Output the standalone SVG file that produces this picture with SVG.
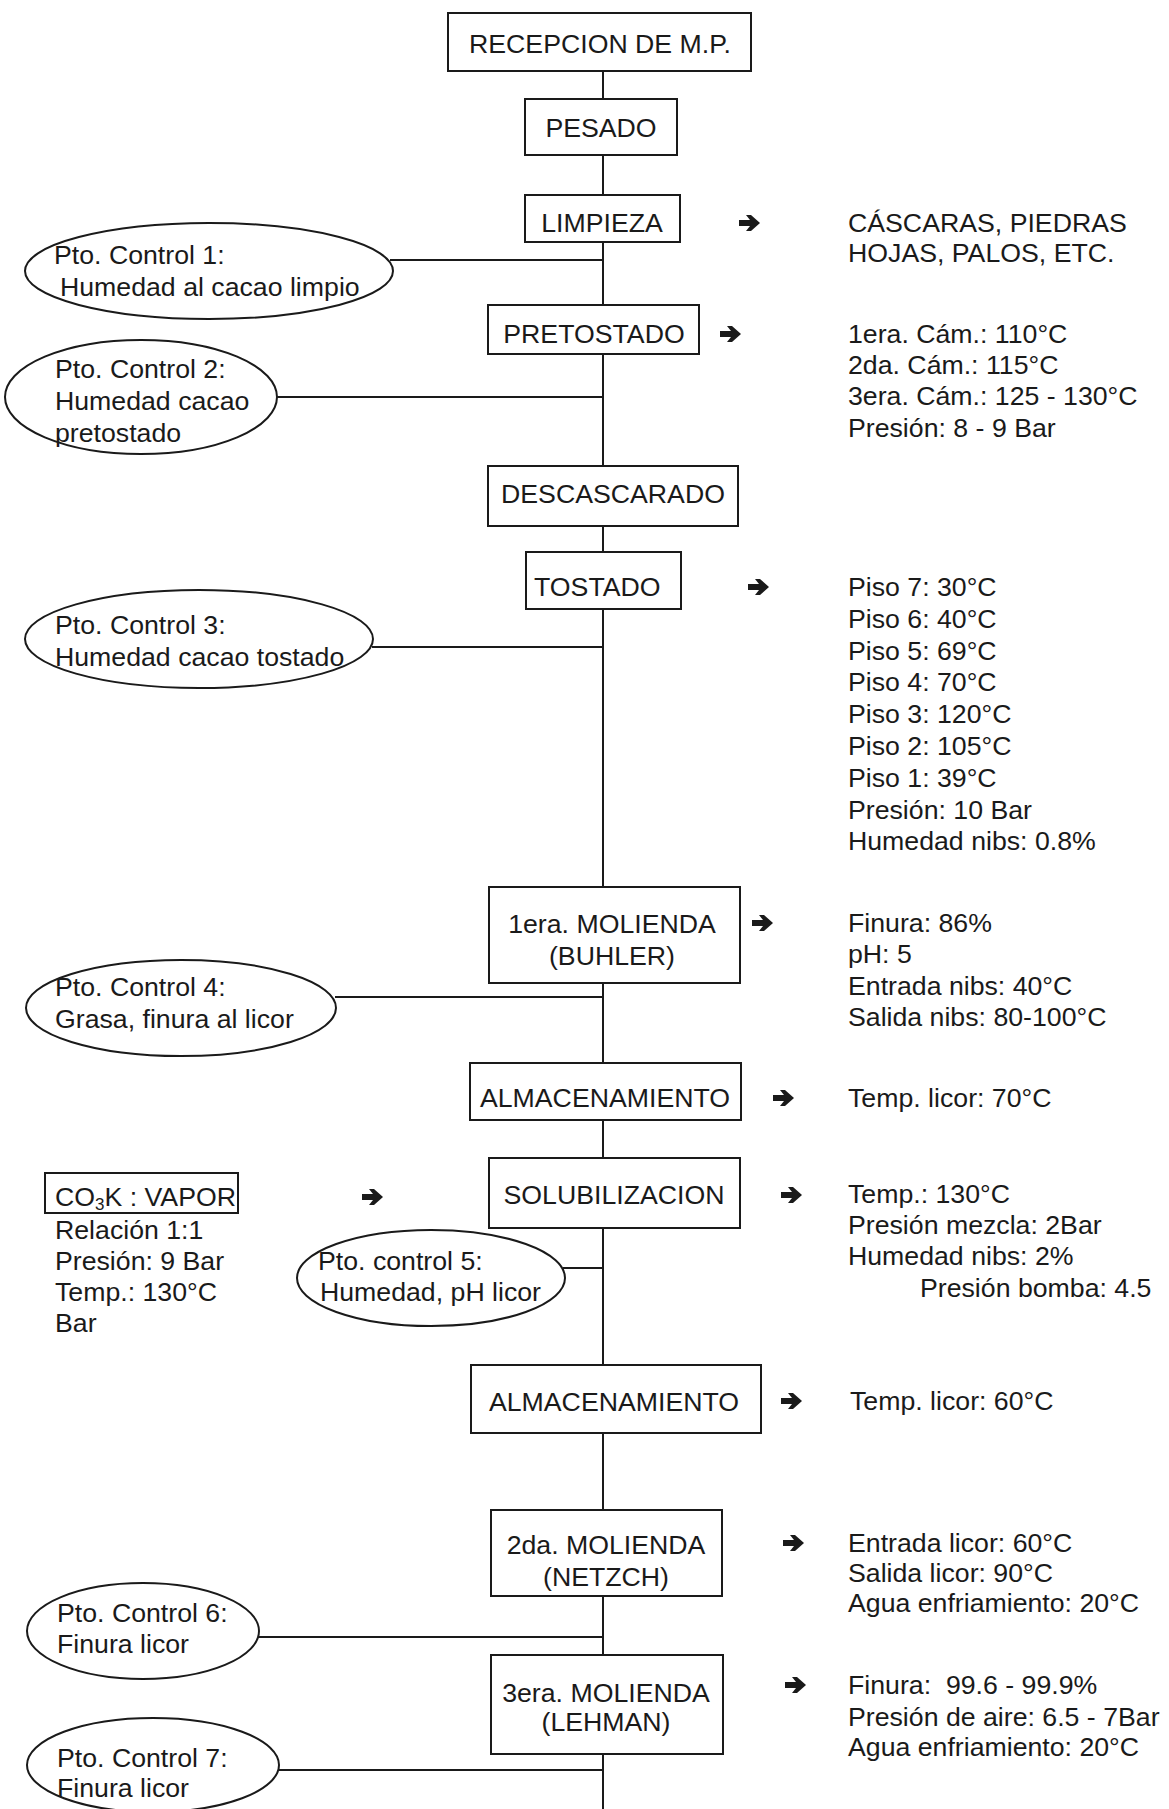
<svg xmlns="http://www.w3.org/2000/svg" width="1169" height="1809" viewBox="0 0 1169 1809">
<style>
text{font-family:"Liberation Sans",Arial,sans-serif;font-size:26.7px;fill:#1a1a1a}
.box{fill:#fff;stroke:#1a1a1a;stroke-width:2}
.ell{fill:#fff;stroke:#1a1a1a;stroke-width:2}
.ln{stroke:#1a1a1a;stroke-width:2;fill:none}
.c{text-anchor:middle}
</style>
<defs>
<path id="arr" d="M0,-3 H11 L7,-8 H12 L21,0 L12,8 H7 L11,3 H0 Z" fill="#1a1a1a"/>
</defs>
<rect width="1169" height="1809" fill="#fff"/>
<g id="connectors">
<line class="ln" x1="603" y1="71" x2="603" y2="1809"/>
<line class="ln" x1="390" y1="260" x2="603" y2="260"/>
<line class="ln" x1="276" y1="397" x2="603" y2="397"/>
<line class="ln" x1="372" y1="647" x2="603" y2="647"/>
<line class="ln" x1="335" y1="997" x2="603" y2="997"/>
<line class="ln" x1="563" y1="1268" x2="603" y2="1268"/>
<line class="ln" x1="258" y1="1637" x2="603" y2="1637"/>
<line class="ln" x1="278" y1="1770" x2="603" y2="1770"/>
<use href="#arr" x="739" y="223"/>
<use href="#arr" x="720" y="334"/>
<use href="#arr" x="748" y="587"/>
<use href="#arr" x="752" y="923"/>
<use href="#arr" x="773" y="1098"/>
<use href="#arr" x="781" y="1195"/>
<use href="#arr" x="362" y="1197"/>
<use href="#arr" x="781" y="1401"/>
<use href="#arr" x="783" y="1543"/>
<use href="#arr" x="785" y="1685"/>
</g>
<g id="n-recepcion"><rect class="box" x="448" y="13" width="303" height="58"/><text class="c" x="600" y="53">RECEPCION DE M.P.</text></g>
<g id="n-pesado"><rect class="box" x="525" y="99" width="152" height="56"/><text class="c" x="601" y="137">PESADO</text></g>
<g id="n-limpieza"><rect class="box" x="525" y="195" width="155" height="47"/><text class="c" x="602" y="232">LIMPIEZA</text></g>
<g id="n-pretostado"><rect class="box" x="488" y="305" width="211" height="49"/><text class="c" x="594" y="343">PRETOSTADO</text></g>
<g id="n-descascarado"><rect class="box" x="488" y="466" width="250" height="60"/><text class="c" x="613" y="503">DESCASCARADO</text></g>
<g id="n-tostado"><rect class="box" x="526" y="552" width="155" height="57"/><text x="534" y="596">TOSTADO</text></g>
<g id="n-molienda1"><rect class="box" x="489" y="887" width="251" height="96"/><text class="c" x="612" y="933">1era. MOLIENDA</text><text class="c" x="612" y="965">(BUHLER)</text></g>
<g id="n-almacen1"><rect class="box" x="470" y="1063" width="271" height="57"/><text class="c" x="605" y="1107">ALMACENAMIENTO</text></g>
<g id="n-solub"><rect class="box" x="489" y="1158" width="251" height="70"/><text class="c" x="614" y="1204">SOLUBILIZACION</text></g>
<g id="n-almacen2"><rect class="box" x="471" y="1365" width="290" height="68"/><text class="c" x="614" y="1411">ALMACENAMIENTO</text></g>
<g id="n-molienda2"><rect class="box" x="491" y="1510" width="231" height="86"/><text class="c" x="606" y="1554">2da. MOLIENDA</text><text class="c" x="606" y="1586">(NETZCH)</text></g>
<g id="n-molienda3"><rect class="box" x="491" y="1655" width="232" height="99"/><text class="c" x="606" y="1702">3era. MOLIENDA</text><text class="c" x="606" y="1731">(LEHMAN)</text></g>
<g id="pc1"><ellipse class="ell" cx="209" cy="271" rx="184" ry="48"/><text x="54" y="264">Pto. Control 1:</text><text x="60" y="296">Humedad al cacao limpio</text></g>
<g id="pc2"><ellipse class="ell" cx="141" cy="397" rx="136" ry="57"/><text x="55" y="378">Pto. Control 2:</text><text x="55" y="410">Humedad cacao</text><text x="55" y="442">pretostado</text></g>
<g id="pc3"><ellipse class="ell" cx="199" cy="639" rx="174" ry="49"/><text x="55" y="634">Pto. Control 3:</text><text x="55" y="666">Humedad cacao tostado</text></g>
<g id="pc4"><ellipse class="ell" cx="181" cy="1008" rx="155" ry="48"/><text x="55" y="996">Pto. Control 4:</text><text x="55" y="1028">Grasa, finura al licor</text></g>
<g id="pc5"><ellipse class="ell" cx="431" cy="1278" rx="134" ry="48"/><text x="318" y="1270">Pto. control 5:</text><text x="320" y="1301">Humedad, pH licor</text></g>
<g id="pc6"><ellipse class="ell" cx="143" cy="1631" rx="116" ry="48"/><text x="57" y="1622">Pto. Control 6:</text><text x="57" y="1653">Finura licor</text></g>
<g id="pc7"><ellipse class="ell" cx="153" cy="1765" rx="126" ry="47"/><text x="57" y="1767">Pto. Control 7:</text><text x="57" y="1797">Finura licor</text></g>
<g id="co3k"><rect class="box" x="45" y="1173" width="193" height="40"/><text x="55" y="1206">CO<tspan font-size="17" dy="4">3</tspan><tspan dy="-4">K : VAPOR</tspan></text>
<text x="55" y="1239">Relación 1:1</text><text x="55" y="1270">Presión: 9 Bar</text><text x="55" y="1301">Temp.: 130°C</text><text x="55" y="1332">Bar</text></g>
<g id="d-limpieza"><text x="848" y="232">CÁSCARAS, PIEDRAS</text><text x="848" y="262">HOJAS, PALOS, ETC.</text></g>
<g id="d-pretostado"><text x="848" y="343">1era. Cám.: 110°C</text><text x="848" y="374">2da. Cám.: 115°C</text><text x="848" y="405">3era. Cám.: 125 - 130°C</text><text x="848" y="437">Presión: 8 - 9 Bar</text></g>
<g id="d-tostado"><text x="848" y="596">Piso 7: 30°C</text><text x="848" y="628">Piso 6: 40°C</text><text x="848" y="660">Piso 5: 69°C</text><text x="848" y="691">Piso 4: 70°C</text><text x="848" y="723">Piso 3: 120°C</text><text x="848" y="755">Piso 2: 105°C</text><text x="848" y="787">Piso 1: 39°C</text><text x="848" y="819">Presión: 10 Bar</text><text x="848" y="850">Humedad nibs: 0.8%</text></g>
<g id="d-molienda1"><text x="848" y="932">Finura: 86%</text><text x="848" y="963">pH: 5</text><text x="848" y="995">Entrada nibs: 40°C</text><text x="848" y="1026">Salida nibs: 80-100°C</text></g>
<g id="d-almacen1"><text x="848" y="1107">Temp. licor: 70°C</text></g>
<g id="d-solub"><text x="848" y="1203">Temp.: 130°C</text><text x="848" y="1234">Presión mezcla: 2Bar</text><text x="848" y="1265">Humedad nibs: 2%</text><text x="920" y="1297">Presión bomba: 4.5</text></g>
<g id="d-almacen2"><text x="850" y="1410">Temp. licor: 60°C</text></g>
<g id="d-molienda2"><text x="848" y="1552">Entrada licor: 60°C</text><text x="848" y="1582">Salida licor: 90°C</text><text x="848" y="1612">Agua enfriamiento: 20°C</text></g>
<g id="d-molienda3"><text x="848" y="1694" xml:space="preserve">Finura:  99.6 - 99.9%</text><text x="848" y="1726">Presión de aire: 6.5 - 7Bar</text><text x="848" y="1756">Agua enfriamiento: 20°C</text></g>
</svg>
